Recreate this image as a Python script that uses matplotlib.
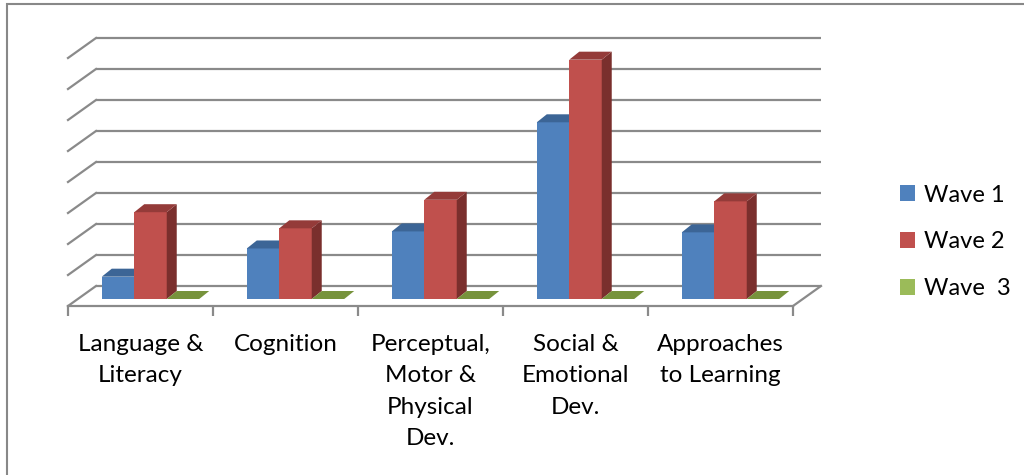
import matplotlib.pyplot as plt
from matplotlib.patches import Polygon, Patch, Rectangle

plt.rcParams['font.family'] = ['Lato', 'DejaVu Sans']

categories = ["Language &\nLiteracy", "Cognition", "Perceptual,\nMotor &\nPhysical\nDev.",
              "Social &\nEmotional\nDev.", "Approaches\nto Learning"]
wave1 = [0.72, 1.63, 2.18, 5.70, 2.15]
wave2 = [2.80, 2.28, 3.20, 7.72, 3.15]
wave3 = [0.0, 0.0, 0.0, 0.0, 0.0]
series_names = ["Wave 1", "Wave 2", "Wave  3"]

# front, top, side colours per series
colors = [("#4F81BD", "#3C6596", "#345782"),
          ("#C0504D", "#943B39", "#7A2F2D"),
          ("#9BBB59", "#77933C", "#5F7730")]
grid_color = "#8a8a8a"

fig = plt.figure(figsize=(10.24, 4.75), dpi=100)
ax = fig.add_axes([68 / 1024, (475 - 306) / 475, 725 / 1024, 248 / 475])
ax.set_xlim(-0.5, 4.5)
ax.set_ylim(0, 8)
ax.patch.set_alpha(0)

# pixels per data unit
sx = 725 / 5
sy = 248 / 8


def off(dx, dy):
    return dx / sx, dy / sy


wall = off(28, 20)     # back wall behind floor front edge
front = off(10, 7)     # bar front plane
depth = off(10, 8)     # bar depth

# back wall gridlines and left wall diagonals
for v in range(0, 9):
    ax.plot([-0.5 + wall[0], 4.5 + wall[0]], [v + wall[1]] * 2, color=grid_color,
            lw=1.6, clip_on=False, zorder=1, solid_capstyle='butt')
    ax.plot([-0.5, -0.5 + wall[0]], [v, v + wall[1]], color=grid_color,
            lw=1.6, clip_on=False, zorder=1)
# right floor edge
ax.plot([4.5, 4.5 + wall[0]], [0, wall[1]], color=grid_color, lw=1.6, clip_on=False, zorder=1)

bar_w = 0.224
for i in range(len(categories)):
    for j, vals in enumerate([wave1, wave2, wave3]):
        v = vals[i]
        x0 = i - 1.5 * bar_w + j * bar_w + front[0]
        x1 = x0 + bar_w
        y0 = front[1]
        y1 = y0 + v
        fc, tc, sc = colors[j]
        if v > 0:
            ax.add_patch(Polygon([(x0, y0), (x1, y0), (x1, y1), (x0, y1)],
                                 closed=True, fc=fc, ec='none', clip_on=False, zorder=3))
            ax.add_patch(Polygon([(x1, y0), (x1 + depth[0], y0 + depth[1]),
                                  (x1 + depth[0], y1 + depth[1]), (x1, y1)],
                                 closed=True, fc=sc, ec='none', clip_on=False, zorder=3))
        ax.add_patch(Polygon([(x0, y1), (x1, y1), (x1 + depth[0], y1 + depth[1]),
                              (x0 + depth[0], y1 + depth[1])],
                             closed=True, fc=tc, ec='none', clip_on=False, zorder=3))

# axis / floor front edge
for s in ['top', 'right', 'left']:
    ax.spines[s].set_visible(False)
ax.spines['bottom'].set_color(grid_color)
ax.spines['bottom'].set_linewidth(1.6)
ax.set_yticks([])
ax.set_xticks(range(len(categories)))
ax.set_xticklabels(categories, fontsize=17.5, linespacing=1.62, va='top')
ax.tick_params(axis='x', which='major', length=0, pad=20)
ax.set_xticks([k - 0.5 for k in range(len(categories) + 1)], minor=True)
ax.tick_params(axis='x', which='minor', length=7, width=1.6, color=grid_color, direction='out')

handles = [Patch(fc=c[0], ec='none') for c in colors]
fig.legend(handles, series_names, loc='center left', bbox_to_anchor=(879 / 1024, 1 - 242 / 475),
           frameon=False, fontsize=17, handlelength=0.64, handleheight=0.64,
           handletextpad=0.35, labelspacing=1.1)

# outer chart border
fig.patches.append(Rectangle((6.5 / 1024, -0.1), 1.2, 1 - 3.5 / 475 + 0.1,
                             transform=fig.transFigure, fill=False,
                             ec='#888888', lw=1.5))

fig.savefig("out.png", dpi=100)
